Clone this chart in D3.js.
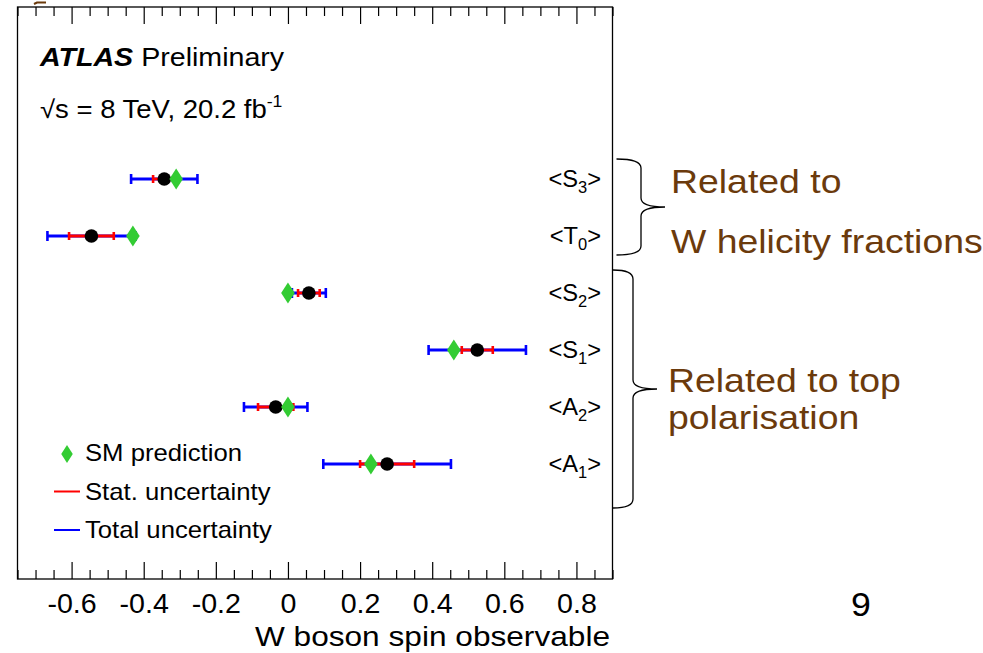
<!DOCTYPE html>
<html>
<head>
<meta charset="utf-8">
<script src="https://cdn.jsdelivr.net/npm/d3@7"></script>
<style>
  body { margin: 0; background: #fff; }
  svg { display: block; font-family: "Liberation Sans", Arial, Helvetica, sans-serif; }
</style>
</head>
<body>
<div id="chart"></div>
<script>
// W boson spin observables: measurement vs SM prediction
const letters = ["S", "T", "S", "S", "A", "A"];
const subscripts = ["3", "0", "2", "1", "2", "1"];
const measured = [-0.343, -0.545, 0.058, 0.525, -0.034, 0.275];
const statErr = [0.031, 0.062, 0.030, 0.043, 0.049, 0.075];
const totalErr = [0.092, 0.122, 0.047, 0.135, 0.088, 0.177];
const smPrediction = [-0.31, -0.43, 0, 0.46, 0, 0.23];
const majorTicks = [-0.6, -0.4, -0.2, 0, 0.2, 0.4, 0.6, 0.8];

const width = 983, height = 653;
const frame = {left: 17.5, right: 612.5, top: 7, bottom: 579};
const brown = "#6b3a0c";
const green = "#33cc33";

const svg = d3.select("#chart")
  .append("svg")
    .attr("width", width)
    .attr("height", height);

svg.append("rect")
    .attr("width", width)
    .attr("height", height)
    .attr("fill", "#fff");

// text with a slight horizontal stretch
function addText(parent, x, y, size, sx) {
  return parent.append("text")
      .attr("transform", "translate(" + x + "," + y + ") scale(" + sx + ",1)")
      .attr("font-size", size);
}

const xScale = d3.scaleLinear()
  .domain([-0.75, 0.9])
  .range([frame.left, frame.right]);

const yScale = d3.scalePoint()
  .domain(d3.range(letters.length))
  .range([179, 464]);

const minorTicks = d3.range(-0.75, 0.9001, 0.05).map(function(v) { return +v.toFixed(2); })
  .filter(function(v) { return majorTicks.indexOf(v) < 0; });

// bottom axis with ticks pointing inward
const bottomAxis = svg.append("g")
    .attr("transform", "translate(0," + frame.bottom + ")");
bottomAxis.call(d3.axisBottom(xScale)
    .tickValues(majorTicks)
    .tickSize(-17)
    .tickPadding(15)
    .tickFormat(function(d) { return String(+d.toFixed(1)); }));
bottomAxis.append("g").call(d3.axisBottom(xScale).tickValues(minorTicks).tickSize(-9).tickFormat(""));
bottomAxis.selectAll(".domain").remove();
bottomAxis.selectAll(".tick text")
    .attr("font-size", 27)
    .attr("font-family", "Liberation Sans, Arial, sans-serif")
    .attr("fill", "#000")
    .attr("transform", "scale(1.06,1)");

const topAxis = svg.append("g")
    .attr("transform", "translate(0," + frame.top + ")");
topAxis.call(d3.axisTop(xScale).tickValues(majorTicks).tickSize(-17).tickFormat(""));
topAxis.append("g").call(d3.axisTop(xScale).tickValues(minorTicks).tickSize(-9).tickFormat(""));
topAxis.selectAll(".domain").remove();

svg.selectAll(".tick line").attr("stroke", "#000").attr("stroke-width", 1.2);

svg.append("rect")
    .attr("x", frame.left)
    .attr("y", frame.top)
    .attr("width", frame.right - frame.left)
    .attr("height", frame.bottom - frame.top)
    .attr("fill", "none")
    .attr("stroke", "#000")
    .attr("stroke-width", 1.3);

// error bars
const rows = svg.append("g").selectAll("g")
  .data(d3.range(letters.length))
  .enter()
  .append("g")
    .attr("transform", function(i) { return "translate(0," + yScale(i) + ")"; });

function errorBar(sel, err, color, cap) {
  sel.append("line")
      .attr("x1", function(i) { return xScale(measured[i] - err[i]); })
      .attr("x2", function(i) { return xScale(measured[i] + err[i]); })
      .attr("stroke", color)
      .attr("stroke-width", 2.8);
  [-1, 1].forEach(function(s) {
    sel.append("line")
        .attr("x1", function(i) { return xScale(measured[i] + s * err[i]); })
        .attr("x2", function(i) { return xScale(measured[i] + s * err[i]); })
        .attr("y1", -cap)
        .attr("y2", cap)
        .attr("stroke", color)
        .attr("stroke-width", 2.6);
  });
}
errorBar(rows, totalErr, "#0000ff", 5);
errorBar(rows, statErr, "#ff0000", 4);

rows.append("circle")
    .attr("cx", function(i) { return xScale(measured[i]); })
    .attr("r", 6.8)
    .attr("fill", "#000");

const diamond = "M0,-10.5L6.8,0L0,10.5L-6.8,0Z";
rows.append("path")
    .attr("d", diamond)
    .attr("transform", function(i) { return "translate(" + xScale(smPrediction[i]) + ",0)"; })
    .attr("fill", green);

// observable names on the right
rows.each(function(i) {
  const t = addText(d3.select(this), 601, 8, 23, 1.03)
      .attr("text-anchor", "end");
  t.append("tspan").text("<" + letters[i]);
  t.append("tspan").attr("font-size", 16).attr("dy", 6).text(subscripts[i]);
  t.append("tspan").attr("dy", -6).text(">");
});

// header
const h1 = addText(svg, 40, 66, 26, 1.1);
h1.append("tspan").attr("font-weight", "bold").attr("font-style", "italic").text("ATLAS");
h1.append("tspan").text(" Preliminary");

const h2 = addText(svg, 40, 118, 25, 1.1);
h2.append("tspan").text("\u221As = 8 TeV, 20.2 fb");
h2.append("tspan").attr("font-size", 16).attr("dy", -11).text("-1");

// legend
const legend = svg.append("g");
legend.append("path")
    .attr("d", diamond)
    .attr("transform", "translate(67,454) scale(0.85)")
    .attr("fill", green);
legend.append("line").attr("x1", 54).attr("x2", 80).attr("y1", 491.5).attr("y2", 491.5)
    .attr("stroke", "#ff0000").attr("stroke-width", 2);
legend.append("line").attr("x1", 54).attr("x2", 80).attr("y1", 530).attr("y2", 530)
    .attr("stroke", "#0000ff").attr("stroke-width", 2);
addText(legend, 85, 461, 24, 1.07).text("SM prediction");
addText(legend, 85, 500, 24, 1.07).text("Stat. uncertainty");
addText(legend, 85, 538, 24, 1.07).text("Total uncertainty");

// axis title
addText(svg, 610, 646, 28, 1.13)
    .attr("text-anchor", "end")
    .text("W boson spin observable");

// braces grouping the observables
function bracePath(x0, y0, y1, xm, tipX) {
  const tip = (y0 + y1) / 2, r = 9;
  return "M" + x0 + "," + y0 +
    "Q" + xm + "," + y0 + " " + xm + "," + (y0 + r) +
    "L" + xm + "," + (tip - r) +
    "Q" + xm + "," + tip + " " + tipX + "," + tip +
    "Q" + xm + "," + tip + " " + xm + "," + (tip + r) +
    "L" + xm + "," + (y1 - r) +
    "Q" + xm + "," + y1 + " " + x0 + "," + y1;
}
svg.append("path")
    .attr("d", bracePath(616.5, yScale(0) - 20, yScale(1) + 19, 641, 665))
    .attr("fill", "none").attr("stroke", "#000").attr("stroke-width", 1.3);
svg.append("path")
    .attr("d", bracePath(613, yScale(2) - 23, yScale(5) + 44, 633, 657))
    .attr("fill", "none").attr("stroke", "#000").attr("stroke-width", 1.3);

addText(svg, 671, 193, 34, 1.1).attr("fill", brown).text("Related to");
addText(svg, 671, 253, 34, 1.1).attr("fill", brown).text("W helicity fractions");
addText(svg, 668, 392, 34, 1.1).attr("fill", brown).text("Related to top");
addText(svg, 668, 429, 34, 1.1).attr("fill", brown).text("polarisation");

// slide number
addText(svg, 861, 616, 34, 1.05).attr("text-anchor", "middle").text("9");

// fragment of a heading stroke peeking in at the top edge
svg.append("path")
    .attr("d", "M34,4L37,2.5L46,2.5")
    .attr("fill", "none")
    .attr("stroke", brown)
    .attr("stroke-width", 2);
</script>
</body>
</html>
